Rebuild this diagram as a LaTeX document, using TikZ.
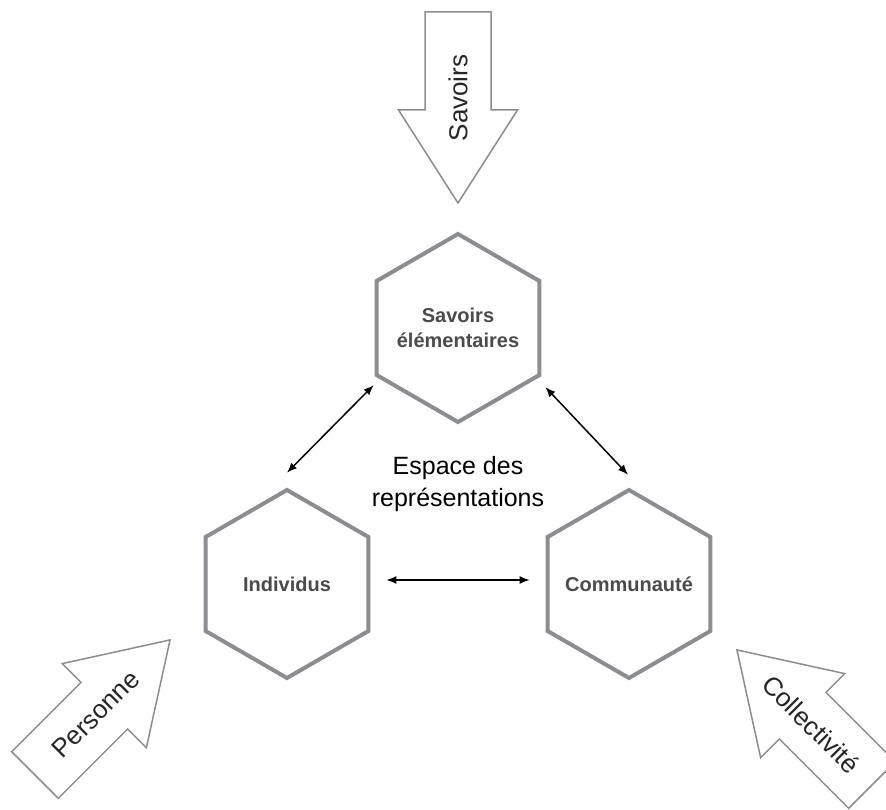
\documentclass[tikz,border=0pt]{standalone}
\usepackage{fontspec}
\setmainfont{Liberation Sans}
\usetikzlibrary{shapes.geometric,arrows.meta}

\definecolor{hexgray}{HTML}{8B8D90}
\definecolor{labelgray}{HTML}{4A4A4A}

\tikzset{
    hexa/.style={regular polygon, regular polygon sides=6, shape border rotate=30,
        draw=hexgray, line width=4pt, minimum size=188pt, inner sep=0pt},
    hexlabel/.style={text=labelgray, font=\fontsize{20}{25}\selectfont\bfseries, align=center},
    bigarrow/.style={draw=hexgray, line width=1.5pt, line join=miter, fill=white},
    arrowlabel/.style={font=\fontsize{26}{30}\selectfont, text=black!85, inner sep=0pt},
    link/.style={{Latex[length=10pt,width=8pt]}-{Latex[length=10pt,width=8pt]}, line width=1.5pt},
}

\begin{document}
\begin{tikzpicture}[x=1pt,y=1pt]
    \clip (0,0) rectangle (886,809);
    % big arrows pointing into the diagram
    \foreach \px/\py/\ang/\txt/\rot [count=\i] in {458/797/270/Savoirs/90, 35/34/45/Personne/45, 872/24/135/Collectivité/-45}{
        \begin{scope}[shift={(\px,\py)}, rotate=\ang]
            \draw[bigarrow] (0,-33) -- (98,-33) -- (98,-59.5) -- (191,0) -- (98,59.5) -- (98,33) -- (0,33) -- cycle;
            \node[arrowlabel, rotate=\rot] (source\i) at (86,0) {\txt};
        \end{scope}
    }

    \node[hexa, label={[hexlabel]center:Savoirs\\élémentaires}] (sav) at (458,481) {};
    \node[hexa, label={[hexlabel]center:Individus}] (ind) at (287,225) {};
    \node[hexa, label={[hexlabel]center:Communauté}] (com) at (629,225) {};
    \node[font=\fontsize{25}{32}\selectfont, align=center] (espace) at (458,325) {Espace des\\représentations};

    \draw[link] ([yshift=15pt]ind.90) -- ([shift={(-1pt,-9pt)}]sav.210);
    \draw[link] ([shift={(4pt,-11pt)}]sav.330) -- ([shift={(-1pt,13pt)}]com.90);
    \draw[link] ([shift={(16pt,4pt)}]ind.0) -- ([shift={(-16pt,4pt)}]com.180);
\end{tikzpicture}
\end{document}
